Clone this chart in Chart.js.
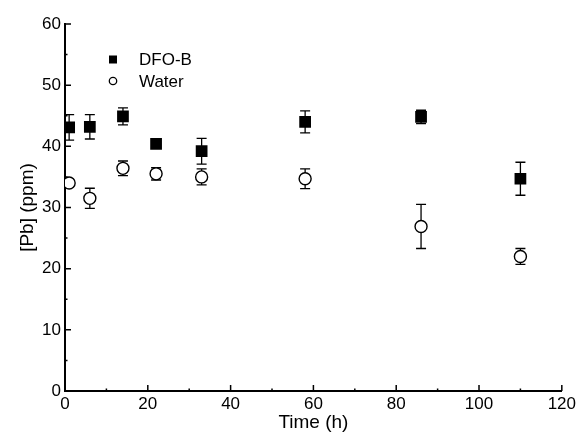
<!DOCTYPE html>
<html>
<head>
<meta charset="utf-8">
<script src="https://cdn.jsdelivr.net/npm/chart.js@4/dist/chart.umd.min.js"></script>
<style>
  html, body { margin: 0; padding: 0; background: #fff; }
  #wrap { width: 579px; height: 432px; }
</style>
</head>
<body>
<div id="wrap"><canvas id="chart-pb"></canvas></div>
<script>
// sampling times (h)
const tiempos = [1, 6, 14, 22, 33, 58, 86, 110];
// [Pb] in ppm, with the error of each point
const pbDFOB = [43.1, 43.2, 44.9, 40.4, 39.2, 44.0, 44.8, 34.7];
const errDFOB = [2.1, 2.0, 1.4, 0.5, 2.1, 1.8, 1.1, 2.7];
const pbAgua = [34.0, 31.5, 36.4, 35.5, 35.0, 34.7, 26.9, 22.0];
const errAgua = [0.5, 1.65, 1.2, 1.0, 1.3, 1.6, 3.6, 1.3];

const fuente = '"Liberation Sans", Arial, Helvetica, sans-serif';

function puntos(ys) {
    return tiempos.map((t, i) => ({ x: t, y: ys[i] }));
}

// error bars, drawn under the markers
const barrasError = {
    id: 'barrasError',
    beforeDatasetsDraw(chart) {
        const ctx = chart.ctx;
        const xs = chart.scales.x, ys = chart.scales.y;
        const area = chart.chartArea;
        ctx.save();
        ctx.beginPath();
        ctx.rect(area.left, area.top, area.right - area.left, area.bottom - area.top);
        ctx.clip();
        ctx.strokeStyle = '#000';
        ctx.lineWidth = 1.3;
        chart.data.datasets.forEach(ds => {
            ds.data.forEach((p, i) => {
                const e = ds.errores[i];
                const px = xs.getPixelForValue(p.x);
                const top = ys.getPixelForValue(p.y + e);
                const bot = ys.getPixelForValue(p.y - e);
                ctx.beginPath();
                ctx.moveTo(px, top); ctx.lineTo(px, bot);
                ctx.moveTo(px - 5, top); ctx.lineTo(px + 5, top);
                ctx.moveTo(px - 5, bot); ctx.lineTo(px + 5, bot);
                ctx.stroke();
            });
        });
        ctx.restore();
    }
};

// ticks pointing into the plot, with small minor ticks between
const ticksInternos = {
    id: 'ticksInternos',
    afterDatasetsDraw(chart) {
        const ctx = chart.ctx;
        const xs = chart.scales.x, ys = chart.scales.y;
        const area = chart.chartArea;
        ctx.save();
        ctx.strokeStyle = '#000';
        ctx.lineWidth = 1.5;
        ctx.beginPath();
        for (let v = 0; v <= 120; v += 10) {
            const px = xs.getPixelForValue(v);
            const len = v % 20 === 0 ? 6 : 2.5;
            ctx.moveTo(px, area.bottom);
            ctx.lineTo(px, area.bottom - len);
        }
        for (let v = 0; v <= 60; v += 5) {
            const py = ys.getPixelForValue(v);
            const len = v % 10 === 0 ? 6 : 2.5;
            ctx.moveTo(area.left, py);
            ctx.lineTo(area.left + len, py);
        }
        ctx.stroke();
        ctx.restore();
    }
};

// legend inside the plot, top left
const leyenda = {
    id: 'leyenda',
    afterDraw(chart) {
        const ctx = chart.ctx;
        ctx.save();
        ctx.font = '17px ' + fuente;
        ctx.fillStyle = '#000';
        ctx.textBaseline = 'middle';
        chart.data.datasets.forEach((ds, i) => {
            const cy = 59.5 + i * 21.5;
            const cx = 113;
            ctx.lineWidth = 1.3;
            ctx.strokeStyle = '#000';
            if (ds.pointStyle === 'rect') {
                ctx.fillStyle = '#000';
                ctx.fillRect(cx - 4, cy - 4, 8, 8);
            } else {
                ctx.fillStyle = '#fff';
                ctx.beginPath();
                ctx.arc(cx, cy, 3.7, 0, Math.PI * 2);
                ctx.fill();
                ctx.stroke();
            }
            ctx.fillStyle = '#000';
            ctx.fillText(ds.label, 139, cy + 1);
        });
        ctx.restore();
    }
};

const ctxPb = document.getElementById('chart-pb').getContext('2d');

const chartPb = new Chart(ctxPb, {
    type: 'scatter',
    data: {
        datasets: [{
            label: 'DFO-B',
            data: puntos(pbDFOB),
            errores: errDFOB,
            pointStyle: 'rect',
            pointRadius: 8.3,
            pointHoverRadius: 8.3,
            backgroundColor: '#000',
            borderColor: '#000',
            borderWidth: 0,
            clip: 0
        }, {
            label: 'Water',
            data: puntos(pbAgua),
            errores: errAgua,
            pointStyle: 'circle',
            pointRadius: 6,
            pointHoverRadius: 6,
            backgroundColor: '#fff',
            borderColor: '#000',
            borderWidth: 1.4,
            clip: 0
        }]
    },
    options: {
        responsive: true,
        maintainAspectRatio: false,
        animation: false,
        layout: { padding: { left: 0, right: 14, top: 24, bottom: 0 } },
        plugins: {
            legend: { display: false },
            tooltip: { enabled: false }
        },
        scales: {
            x: {
                type: 'linear',
                min: 0,
                max: 120,
                afterFit(scale) { scale.height = 41; },
                ticks: {
                    stepSize: 20,
                    color: '#000',
                    padding: 3,
                    maxRotation: 0,
                    font: { family: fuente, size: 17 }
                },
                grid: { display: true, drawOnChartArea: false, drawTicks: false },
                border: { display: true, color: '#000', width: 2 },
                title: {
                    display: true,
                    text: 'Time (h)',
                    color: '#000',
                    padding: { top: 0, bottom: 0 },
                    font: { family: fuente, size: 19, lineHeight: 1 }
                }
            },
            y: {
                type: 'linear',
                min: 0,
                max: 60,
                afterFit(scale) { scale.width = 65; },
                ticks: {
                    stepSize: 10,
                    color: '#000',
                    padding: 4,
                    font: { family: fuente, size: 17 }
                },
                grid: { display: true, drawOnChartArea: false, drawTicks: false },
                border: { display: true, color: '#000', width: 2 },
                title: {
                    display: true,
                    text: '[Pb] (ppm)',
                    color: '#000',
                    padding: { top: 18, bottom: 0 },
                    font: { family: fuente, size: 19, lineHeight: 1 }
                }
            }
        }
    },
    plugins: [barrasError, ticksInternos, leyenda]
});
</script>
</body>
</html>
